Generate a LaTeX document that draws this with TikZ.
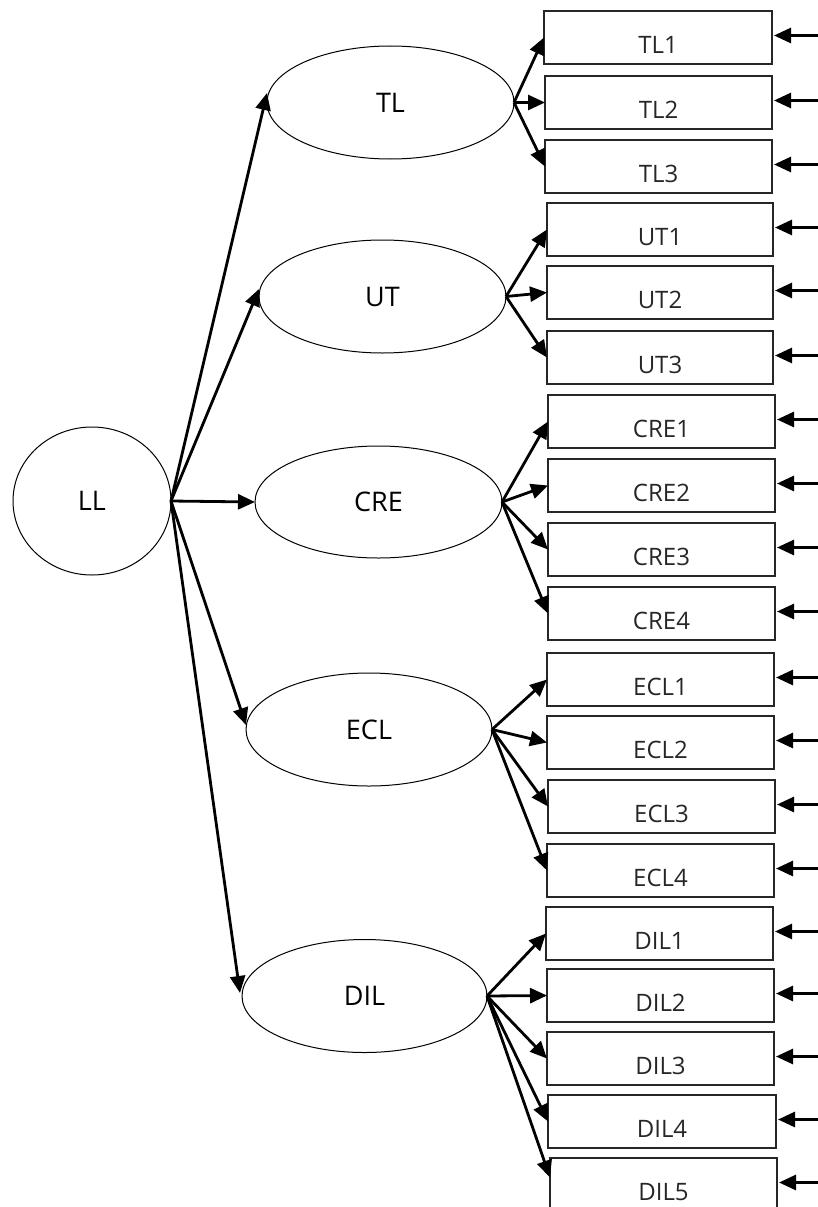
\documentclass[tikz,border=0pt]{standalone}
\usepackage{fontspec}
\setmainfont{Open Sans}
\usetikzlibrary{arrows.meta,shapes.geometric}

\tikzset{
  latent/.style={ellipse, draw, line width=1pt, inner sep=0pt, outer sep=0pt,
    font=\fontsize{27}{32}\selectfont},
  itembox/.style={rectangle, draw=black!85, line width=1.3pt, inner sep=0pt, outer sep=0pt,
    minimum height=53pt, anchor=north west},
  itemtext/.style={inner sep=0pt, text=black!85, font=\fontsize{24}{29}\selectfont},
  conn/.style={line width=2.8pt, -{Triangle[length=17pt,width=15pt]}},
}

\begin{document}
\begin{tikzpicture}[x=1pt, y=-1pt]
\useasboundingbox (0,0) rectangle (817,1207);

% second-order factor and first-order factors
\node[latent, minimum width=158pt, minimum height=148pt] (LL) at (92,501) {LL};
\node[latent, minimum width=247pt, minimum height=113pt] (TL)  at (390.5,102.5) {TL};
\node[latent, minimum width=247pt, minimum height=113pt] (UT)  at (382.5,296.5) {UT};
\node[latent, minimum width=247pt, minimum height=112pt] (CRE) at (378.5,502) {CRE};
\node[latent, minimum width=246pt, minimum height=113pt] (ECL) at (369,729.5) {ECL};
\node[latent, minimum width=245pt, minimum height=113pt] (DIL) at (364.5,996) {DIL};

% indicator boxes with their labels and error arrows
\foreach \n/\lx/\ty/\rx in {
  TL1/544/11/772, TL2/545/76/772, TL3/545/140/772,
  UT1/547/203/773, UT2/547/266/773, UT3/547/331/773,
  CRE1/548/395/775, CRE2/548/459/775, CRE3/548/523/775, CRE4/548/587/775,
  ECL1/547/653/774, ECL2/547/716/774, ECL3/548/780/775, ECL4/547/844/774,
  DIL1/546/907/773, DIL2/547/969/774, DIL3/547/1032/774, DIL4/548/1095/776,
  DIL5/550/1158/777}{
  \pgfmathsetmacro\bw{\rx-\lx}
  \node[itembox, minimum width=\bw pt] (\n) at (\lx,\ty) {};
  \node[itemtext] (\n-t) at ([yshift=-7.5pt]\n.center) {\n};
  \path (\n.east) ++(48pt,2pt) coordinate (in-\n);
  \draw[conn] (in-\n) -- ([xshift=2pt,yshift=2pt]\n.east);
}

% loadings of the second-order factor
\draw[conn] (LL.east) -- ([yshift=9.5pt]TL.west);
\draw[conn] (LL.east) -- ([yshift=7.5pt]UT.west);
\draw[conn] (LL.east) -- (CRE.west);
\draw[conn] (LL.east) -- ([yshift=4.5pt]ECL.west);
\draw[conn] (LL.east) -- ([xshift=-2pt,yshift=3pt]DIL.west);

% loadings of the first-order factors
\foreach \i in {1,2,3} \draw[conn] (TL.east) -- (TL\i.west);
\foreach \i in {1,2,3} \draw[conn] (UT.east) -- (UT\i.west);
\foreach \i in {1,2,3,4} \draw[conn] (CRE.east) -- (CRE\i.west);
\foreach \i in {1,2,3,4} \draw[conn] (ECL.east) -- (ECL\i.west);
\foreach \i in {1,2,3,4} \draw[conn] (DIL.east) -- (DIL\i.west);
\draw[conn] (DIL.east) -- ([yshift=7pt]DIL5.west);
\end{tikzpicture}
\end{document}
